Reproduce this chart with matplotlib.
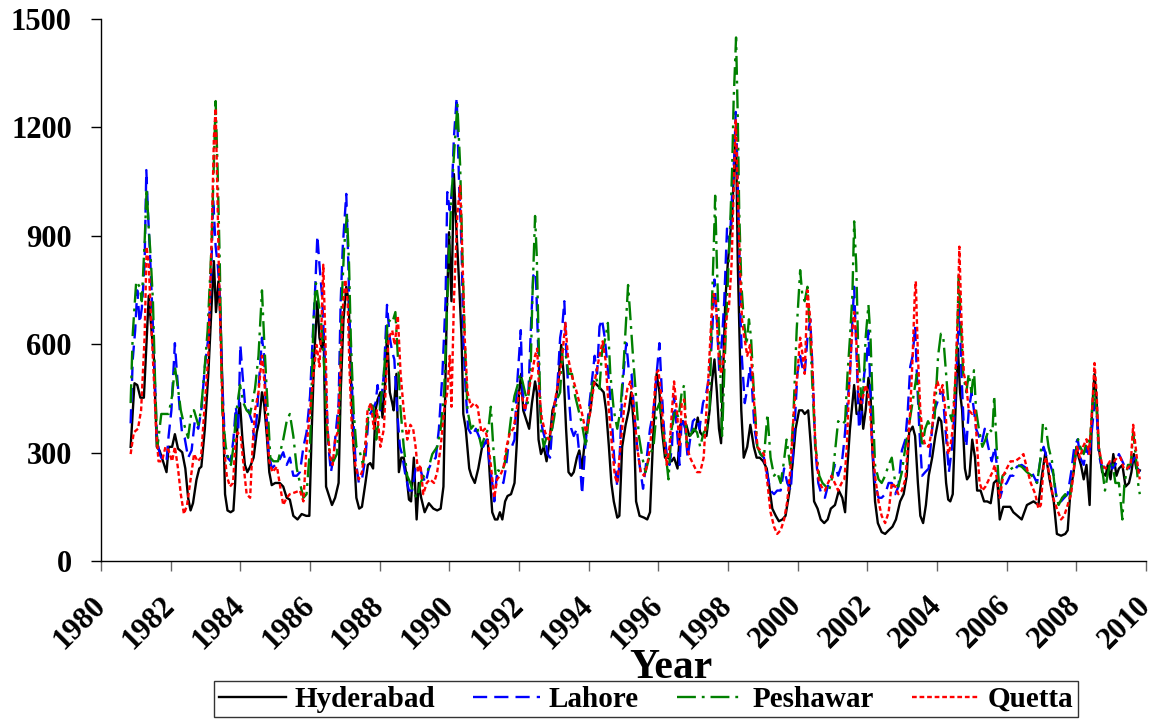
import numpy as np
import matplotlib
matplotlib.use("Agg")
import matplotlib.pyplot as plt

# (decimal year, value)
hyderabad = [
    (1980.85, 316), (1980.96, 492), (1981.04, 487), (1981.13, 452), (1981.23, 452), (1981.37, 734),
    (1981.44, 648), (1981.52, 558), (1981.60, 316), (1981.68, 306), (1981.78, 276), (1981.88, 246),
    (1981.94, 316), (1982.04, 316), (1982.12, 351), (1982.21, 311), (1982.33, 301), (1982.42, 256),
    (1982.50, 175), (1982.57, 140), (1982.64, 160), (1982.74, 225), (1982.82, 256), (1982.88, 261),
    (1982.98, 366), (1983.08, 518), (1983.17, 699), (1983.24, 830), (1983.30, 689), (1983.37, 774),
    (1983.43, 664), (1983.49, 467), (1983.56, 185), (1983.63, 140), (1983.72, 135), (1983.80, 140),
    (1983.85, 215), (1983.92, 387), (1983.99, 437), (1984.06, 336), (1984.13, 266), (1984.20, 246),
    (1984.28, 261), (1984.38, 286), (1984.47, 356), (1984.54, 387), (1984.62, 467), (1984.68, 437),
    (1984.76, 346), (1984.83, 246), (1984.90, 210), (1985.00, 216), (1985.13, 216), (1985.23, 206),
    (1985.33, 175), (1985.42, 170), (1985.52, 125), (1985.64, 115), (1985.76, 130), (1985.89, 125),
    (1985.98, 125), (1986.05, 366), (1986.12, 568), (1986.21, 719), (1986.27, 618), (1986.34, 588),
    (1986.39, 638), (1986.46, 206), (1986.53, 185), (1986.63, 155), (1986.72, 175), (1986.82, 216),
    (1986.88, 467), (1986.96, 669), (1987.04, 759), (1987.11, 719), (1987.17, 518), (1987.25, 316),
    (1987.33, 175), (1987.41, 145), (1987.49, 150), (1987.59, 216), (1987.66, 266), (1987.73, 271),
    (1987.81, 256), (1987.88, 417), (1987.94, 447), (1988.02, 467), (1988.08, 397), (1988.16, 497),
    (1988.21, 638), (1988.29, 467), (1988.36, 437), (1988.40, 417), (1988.48, 518), (1988.55, 246),
    (1988.62, 286), (1988.69, 286), (1988.77, 236), (1988.84, 170), (1988.90, 165), (1988.98, 286),
    (1989.06, 115), (1989.12, 216), (1989.19, 175), (1989.29, 135), (1989.41, 160), (1989.54, 145),
    (1989.65, 140), (1989.75, 145), (1989.83, 206), (1989.87, 417), (1989.92, 669), (1989.99, 910),
    (1990.06, 719), (1990.13, 1071), (1990.20, 920), (1990.28, 769), (1990.35, 618), (1990.40, 407),
    (1990.47, 366), (1990.57, 256), (1990.63, 236), (1990.73, 216), (1990.83, 256), (1990.94, 316),
    (1991.02, 326), (1991.10, 336), (1991.16, 236), (1991.23, 135), (1991.31, 115), (1991.38, 115),
    (1991.45, 135), (1991.52, 115), (1991.60, 165), (1991.67, 180), (1991.77, 185), (1991.87, 216),
    (1991.93, 316), (1992.00, 467), (1992.06, 518), (1992.12, 417), (1992.22, 387), (1992.29, 366),
    (1992.37, 437), (1992.46, 497), (1992.51, 467), (1992.56, 336), (1992.63, 296), (1992.71, 316),
    (1992.79, 276), (1992.87, 326), (1992.96, 417), (1993.06, 447), (1993.13, 497), (1993.21, 598),
    (1993.28, 518), (1993.35, 366), (1993.42, 246), (1993.50, 236), (1993.57, 246), (1993.66, 286),
    (1993.73, 306), (1993.81, 256), (1993.87, 316), (1993.95, 366), (1994.05, 417), (1994.14, 497),
    (1994.24, 487), (1994.34, 477), (1994.43, 467), (1994.50, 417), (1994.58, 316), (1994.65, 216),
    (1994.72, 165), (1994.82, 120), (1994.88, 125), (1994.96, 316), (1995.06, 377), (1995.15, 417),
    (1995.22, 467), (1995.30, 366), (1995.36, 165), (1995.46, 125), (1995.59, 120), (1995.68, 115),
    (1995.76, 135), (1995.86, 366), (1995.95, 518), (1996.03, 467), (1996.10, 366), (1996.19, 286),
    (1996.29, 286), (1996.38, 276), (1996.45, 286), (1996.55, 256), (1996.63, 377), (1996.70, 387),
    (1996.80, 377), (1996.89, 346), (1996.99, 356), (1997.07, 366), (1997.13, 397), (1997.20, 356),
    (1997.28, 346), (1997.38, 346), (1997.47, 417), (1997.54, 497), (1997.61, 558), (1997.68, 467),
    (1997.74, 366), (1997.80, 326), (1997.86, 518), (1997.92, 719), (1997.99, 820), (1998.05, 890),
    (1998.12, 961), (1998.16, 1061), (1998.21, 1152), (1998.24, 1102), (1998.28, 820), (1998.33, 618),
    (1998.38, 417), (1998.45, 286), (1998.55, 316), (1998.64, 377), (1998.74, 316), (1998.82, 286),
    (1998.91, 286), (1999.01, 276), (1999.11, 256), (1999.17, 216), (1999.27, 145), (1999.37, 125),
    (1999.46, 110), (1999.56, 115), (1999.65, 125), (1999.75, 185), (1999.85, 266), (1999.94, 366),
    (2000.04, 417), (2000.13, 417), (2000.20, 407), (2000.30, 417), (2000.38, 316), (2000.47, 165),
    (2000.57, 145), (2000.66, 115), (2000.76, 105), (2000.86, 115), (2000.95, 145), (2001.07, 155),
    (2001.18, 195), (2001.28, 175), (2001.36, 135), (2001.43, 266), (2001.50, 366), (2001.57, 437),
    (2001.62, 487), (2001.69, 407), (2001.76, 407), (2001.82, 457), (2001.88, 366), (2001.95, 417),
    (2002.03, 507), (2002.09, 467), (2002.14, 316), (2002.22, 165), (2002.30, 105), (2002.41, 80),
    (2002.51, 75), (2002.61, 85), (2002.72, 95), (2002.82, 115), (2002.94, 165), (2003.04, 185),
    (2003.13, 236), (2003.20, 356), (2003.30, 372), (2003.37, 346), (2003.45, 216), (2003.52, 125),
    (2003.60, 105), (2003.68, 155), (2003.76, 236), (2003.86, 286), (2003.95, 346), (2004.05, 397),
    (2004.12, 387), (2004.19, 316), (2004.26, 216), (2004.32, 170), (2004.38, 165), (2004.45, 185),
    (2004.53, 417), (2004.60, 588), (2004.66, 467), (2004.72, 417), (2004.80, 256), (2004.86, 226),
    (2004.93, 236), (2005.01, 336), (2005.09, 286), (2005.15, 195), (2005.25, 195), (2005.35, 165),
    (2005.44, 165), (2005.54, 160), (2005.63, 216), (2005.73, 226), (2005.80, 115), (2005.90, 150),
    (2006.10, 150), (2006.19, 135), (2006.43, 115), (2006.58, 155), (2006.77, 165), (2006.91, 155),
    (2007.01, 236), (2007.11, 301), (2007.23, 226), (2007.35, 165), (2007.44, 75), (2007.56, 70),
    (2007.68, 75), (2007.75, 85), (2007.83, 195), (2007.92, 246), (2008.00, 316), (2008.07, 286),
    (2008.13, 266), (2008.21, 226), (2008.29, 266), (2008.38, 155), (2008.45, 417), (2008.52, 518),
    (2008.58, 447), (2008.64, 316), (2008.74, 246), (2008.84, 236), (2008.90, 266), (2008.98, 226),
    (2009.06, 296), (2009.15, 236), (2009.22, 256), (2009.32, 266), (2009.41, 206), (2009.51, 216),
    (2009.58, 246), (2009.65, 296), (2009.72, 256), (2009.82, 251),
]

lahore = [
    (1980.85, 381), (1980.91, 558), (1980.98, 638), (1981.04, 749), (1981.11, 659), (1981.17, 699),
    (1981.25, 820), (1981.30, 1082), (1981.35, 961), (1981.41, 840), (1981.47, 699), (1981.54, 518),
    (1981.60, 346), (1981.68, 296), (1981.78, 276), (1981.88, 276), (1981.94, 346), (1982.02, 417),
    (1982.12, 603), (1982.18, 518), (1982.26, 417), (1982.33, 351), (1982.40, 341), (1982.50, 286),
    (1982.60, 306), (1982.69, 387), (1982.79, 366), (1982.88, 417), (1982.98, 538), (1983.08, 618),
    (1983.17, 820), (1983.22, 1001), (1983.29, 870), (1983.35, 820), (1983.41, 739), (1983.47, 518),
    (1983.56, 316), (1983.63, 286), (1983.72, 276), (1983.80, 336), (1983.87, 427), (1983.94, 366),
    (1984.00, 598), (1984.06, 518), (1984.13, 437), (1984.23, 417), (1984.33, 387), (1984.40, 336),
    (1984.47, 397), (1984.55, 518), (1984.62, 618), (1984.68, 568), (1984.73, 437), (1984.81, 306),
    (1984.90, 256), (1985.00, 266), (1985.10, 276), (1985.23, 301), (1985.33, 266), (1985.42, 286),
    (1985.52, 236), (1985.62, 236), (1985.71, 246), (1985.81, 316), (1985.90, 356), (1986.00, 457),
    (1986.10, 669), (1986.15, 759), (1986.21, 900), (1986.27, 820), (1986.34, 739), (1986.40, 618),
    (1986.46, 467), (1986.53, 316), (1986.60, 246), (1986.67, 286), (1986.75, 366), (1986.82, 437),
    (1986.88, 719), (1986.94, 870), (1987.04, 1016), (1987.10, 820), (1987.15, 618), (1987.23, 417),
    (1987.30, 286), (1987.40, 216), (1987.49, 226), (1987.59, 286), (1987.68, 397), (1987.78, 417),
    (1987.88, 437), (1987.94, 487), (1988.02, 417), (1988.12, 518), (1988.21, 709), (1988.29, 618),
    (1988.36, 578), (1988.42, 558), (1988.50, 417), (1988.58, 316), (1988.64, 296), (1988.74, 236),
    (1988.84, 195), (1988.93, 195), (1989.03, 256), (1989.13, 266), (1989.22, 236), (1989.32, 216),
    (1989.41, 256), (1989.51, 276), (1989.61, 286), (1989.70, 366), (1989.80, 518), (1989.89, 719),
    (1989.94, 1021), (1990.01, 971), (1990.07, 1021), (1990.13, 1172), (1990.21, 1283), (1990.28, 1041),
    (1990.35, 870), (1990.40, 618), (1990.47, 467), (1990.54, 366), (1990.66, 346), (1990.76, 366),
    (1990.97, 316), (1991.07, 336), (1991.16, 266), (1991.23, 216), (1991.29, 165), (1991.36, 236),
    (1991.45, 226), (1991.55, 216), (1991.62, 256), (1991.69, 316), (1991.79, 316), (1991.87, 336),
    (1991.93, 467), (1992.00, 568), (1992.05, 639), (1992.10, 467), (1992.17, 417), (1992.27, 467),
    (1992.35, 669), (1992.41, 790), (1992.48, 800), (1992.54, 618), (1992.61, 417), (1992.67, 366),
    (1992.75, 336), (1992.82, 296), (1992.89, 286), (1992.99, 417), (1993.09, 467), (1993.18, 618),
    (1993.25, 659), (1993.30, 719), (1993.36, 568), (1993.42, 467), (1993.50, 366), (1993.57, 346),
    (1993.66, 366), (1993.73, 296), (1993.81, 185), (1993.90, 316), (1994.00, 417), (1994.10, 507),
    (1994.17, 568), (1994.24, 518), (1994.31, 649), (1994.38, 669), (1994.46, 618), (1994.56, 518),
    (1994.65, 417), (1994.73, 286), (1994.82, 206), (1994.88, 266), (1994.96, 467), (1995.04, 568),
    (1995.08, 603), (1995.15, 528), (1995.23, 518), (1995.30, 417), (1995.39, 316), (1995.49, 246),
    (1995.56, 200), (1995.63, 256), (1995.76, 366), (1995.86, 417), (1995.95, 518), (1996.03, 603),
    (1996.10, 467), (1996.16, 366), (1996.24, 296), (1996.32, 266), (1996.39, 316), (1996.45, 457),
    (1996.53, 366), (1996.61, 266), (1996.67, 397), (1996.77, 366), (1996.84, 286), (1996.91, 336),
    (1996.99, 387), (1997.09, 397), (1997.18, 366), (1997.28, 437), (1997.38, 467), (1997.47, 518),
    (1997.54, 618), (1997.61, 779), (1997.68, 669), (1997.75, 518), (1997.83, 618), (1997.89, 719),
    (1997.97, 920), (1998.05, 880), (1998.12, 1021), (1998.18, 1122), (1998.22, 1243), (1998.26, 1122),
    (1998.31, 920), (1998.36, 669), (1998.40, 558), (1998.48, 437), (1998.55, 477), (1998.63, 538),
    (1998.69, 477), (1998.76, 366), (1998.84, 316), (1998.93, 296), (1999.03, 286), (1999.13, 236),
    (1999.22, 195), (1999.32, 185), (1999.41, 195), (1999.51, 195), (1999.61, 256), (1999.70, 216),
    (1999.80, 195), (1999.89, 336), (1999.99, 518), (2000.07, 568), (2000.13, 538), (2000.20, 518),
    (2000.28, 618), (2000.36, 669), (2000.43, 518), (2000.50, 316), (2000.59, 216), (2000.68, 185),
    (2000.78, 175), (2000.86, 206), (2000.95, 226), (2001.07, 266), (2001.16, 236), (2001.26, 266),
    (2001.34, 336), (2001.41, 417), (2001.50, 518), (2001.57, 669), (2001.62, 759), (2001.69, 568),
    (2001.76, 366), (2001.84, 417), (2001.91, 518), (2001.98, 558), (2002.03, 638), (2002.09, 467),
    (2002.14, 316), (2002.22, 216), (2002.32, 175), (2002.41, 175), (2002.51, 185), (2002.61, 216),
    (2002.70, 216), (2002.80, 185), (2002.89, 206), (2002.99, 306), (2003.09, 336), (2003.16, 417),
    (2003.23, 538), (2003.30, 568), (2003.37, 649), (2003.42, 518), (2003.49, 366), (2003.57, 236),
    (2003.66, 246), (2003.76, 256), (2003.86, 366), (2003.93, 417), (2004.00, 437), (2004.10, 467),
    (2004.16, 467), (2004.24, 366), (2004.34, 246), (2004.43, 316), (2004.51, 417), (2004.58, 568),
    (2004.64, 719), (2004.70, 518), (2004.77, 366), (2004.84, 316), (2004.91, 417), (2004.99, 467),
    (2005.06, 417), (2005.12, 366), (2005.20, 346), (2005.28, 326), (2005.37, 366), (2005.47, 316),
    (2005.57, 276), (2005.66, 316), (2005.81, 175), (2005.90, 206), (2006.00, 216), (2006.10, 236),
    (2006.19, 236), (2006.29, 261), (2006.43, 266), (2006.58, 256), (2006.72, 246), (2006.87, 216),
    (2006.96, 276), (2007.06, 316), (2007.15, 286), (2007.25, 266), (2007.35, 236), (2007.44, 165),
    (2007.56, 165), (2007.65, 175), (2007.75, 185), (2007.85, 246), (2007.94, 316), (2008.04, 337),
    (2008.11, 286), (2008.21, 266), (2008.29, 316), (2008.37, 286), (2008.45, 366), (2008.52, 437),
    (2008.58, 417), (2008.64, 296), (2008.74, 256), (2008.84, 266), (2008.93, 276), (2009.03, 256),
    (2009.12, 266), (2009.22, 296), (2009.32, 276), (2009.41, 256), (2009.51, 256), (2009.61, 276),
    (2009.67, 286), (2009.75, 256), (2009.82, 246),
]

peshawar = [
    (1980.85, 437), (1980.91, 628), (1981.01, 774), (1981.11, 759), (1981.17, 719), (1981.25, 880),
    (1981.31, 1031), (1981.37, 920), (1981.42, 850), (1981.49, 719), (1981.56, 467), (1981.62, 316),
    (1981.73, 407), (1981.85, 407), (1981.94, 407), (1982.04, 457), (1982.12, 538), (1982.21, 477),
    (1982.29, 417), (1982.36, 387), (1982.42, 366), (1982.50, 341), (1982.60, 417), (1982.67, 417),
    (1982.79, 377), (1982.87, 417), (1982.96, 518), (1983.06, 638), (1983.17, 870), (1983.29, 1273),
    (1983.35, 1071), (1983.41, 820), (1983.48, 417), (1983.58, 316), (1983.65, 286), (1983.73, 266),
    (1983.80, 316), (1983.89, 417), (1983.99, 487), (1984.09, 437), (1984.18, 417), (1984.28, 407),
    (1984.42, 477), (1984.52, 568), (1984.62, 749), (1984.68, 618), (1984.76, 467), (1984.86, 286),
    (1984.95, 276), (1985.08, 276), (1985.23, 336), (1985.33, 387), (1985.42, 407), (1985.52, 346),
    (1985.62, 256), (1985.71, 216), (1985.81, 175), (1985.90, 185), (1986.00, 316), (1986.10, 669),
    (1986.17, 769), (1986.24, 719), (1986.31, 669), (1986.39, 568), (1986.48, 366), (1986.58, 286),
    (1986.67, 276), (1986.77, 296), (1986.85, 417), (1986.91, 719), (1986.98, 870), (1987.06, 961),
    (1987.12, 820), (1987.17, 618), (1987.25, 417), (1987.33, 316), (1987.42, 306), (1987.52, 266),
    (1987.62, 356), (1987.71, 437), (1987.81, 427), (1987.90, 336), (1988.00, 417), (1988.12, 518),
    (1988.23, 669), (1988.36, 659), (1988.45, 689), (1988.52, 568), (1988.60, 417), (1988.69, 316),
    (1988.79, 236), (1988.88, 216), (1988.98, 185), (1989.08, 175), (1989.17, 216), (1989.27, 236),
    (1989.37, 246), (1989.51, 296), (1989.65, 316), (1989.75, 366), (1989.85, 467), (1989.94, 719),
    (1990.04, 971), (1990.13, 1122), (1990.23, 1263), (1990.31, 1092), (1990.38, 820), (1990.44, 618),
    (1990.52, 417), (1990.62, 366), (1990.71, 377), (1990.81, 366), (1990.92, 316), (1991.02, 346),
    (1991.12, 366), (1991.19, 427), (1991.26, 316), (1991.33, 236), (1991.40, 251), (1991.50, 246),
    (1991.58, 266), (1991.67, 316), (1991.77, 397), (1991.87, 457), (1991.96, 487), (1992.03, 518),
    (1992.10, 497), (1992.17, 467), (1992.25, 437), (1992.33, 518), (1992.38, 719), (1992.46, 955),
    (1992.51, 840), (1992.56, 618), (1992.63, 366), (1992.71, 316), (1992.80, 346), (1992.89, 336),
    (1992.99, 387), (1993.09, 447), (1993.18, 467), (1993.25, 588), (1993.33, 578), (1993.42, 518),
    (1993.52, 518), (1993.61, 457), (1993.71, 417), (1993.81, 377), (1993.92, 316), (1994.02, 417),
    (1994.12, 497), (1994.21, 507), (1994.31, 477), (1994.38, 578), (1994.48, 618), (1994.55, 659),
    (1994.62, 518), (1994.72, 417), (1994.82, 366), (1994.91, 417), (1995.01, 558), (1995.09, 699),
    (1995.13, 764), (1995.20, 669), (1995.27, 568), (1995.35, 467), (1995.44, 346), (1995.54, 286),
    (1995.63, 246), (1995.76, 296), (1995.86, 316), (1995.95, 417), (1996.03, 437), (1996.10, 387),
    (1996.19, 316), (1996.29, 226), (1996.38, 366), (1996.48, 417), (1996.58, 397), (1996.67, 467),
    (1996.74, 487), (1996.82, 316), (1996.91, 346), (1997.01, 366), (1997.11, 356), (1997.20, 316),
    (1997.30, 356), (1997.39, 366), (1997.47, 417), (1997.54, 719), (1997.59, 870), (1997.63, 1011),
    (1997.68, 820), (1997.73, 669), (1997.78, 518), (1997.83, 346), (1997.89, 518), (1997.97, 719),
    (1998.05, 900), (1998.12, 1092), (1998.16, 1273), (1998.23, 1449), (1998.28, 1223), (1998.32, 971),
    (1998.38, 769), (1998.45, 669), (1998.53, 598), (1998.60, 669), (1998.66, 618), (1998.74, 467),
    (1998.84, 316), (1998.93, 296), (1999.03, 286), (1999.13, 407), (1999.22, 286), (1999.32, 236),
    (1999.41, 246), (1999.51, 216), (1999.59, 266), (1999.68, 336), (1999.78, 266), (1999.87, 387),
    (1999.97, 639), (2000.07, 805), (2000.13, 739), (2000.20, 719), (2000.28, 759), (2000.36, 618),
    (2000.43, 467), (2000.51, 316), (2000.62, 236), (2000.71, 216), (2000.81, 206), (2000.90, 195),
    (2001.00, 236), (2001.16, 387), (2001.26, 377), (2001.36, 387), (2001.43, 518), (2001.50, 618),
    (2001.57, 739), (2001.62, 940), (2001.68, 820), (2001.74, 568), (2001.82, 457), (2001.88, 467),
    (2001.95, 618), (2002.03, 709), (2002.09, 618), (2002.14, 467), (2002.22, 266), (2002.32, 226),
    (2002.41, 216), (2002.51, 236), (2002.61, 266), (2002.70, 286), (2002.80, 216), (2002.89, 206),
    (2002.99, 246), (2003.09, 316), (2003.18, 366), (2003.26, 417), (2003.34, 467), (2003.42, 518),
    (2003.49, 417), (2003.57, 316), (2003.66, 366), (2003.74, 387), (2003.84, 366), (2003.93, 397),
    (2004.03, 568), (2004.11, 629), (2004.18, 618), (2004.26, 518), (2004.34, 417), (2004.43, 387),
    (2004.51, 467), (2004.58, 618), (2004.62, 790), (2004.68, 669), (2004.75, 518), (2004.84, 467),
    (2004.91, 518), (2004.99, 467), (2005.06, 528), (2005.12, 417), (2005.20, 366), (2005.30, 316),
    (2005.39, 336), (2005.49, 366), (2005.59, 356), (2005.64, 457), (2005.71, 316), (2005.79, 185),
    (2005.88, 236), (2006.00, 246), (2006.14, 256), (2006.29, 266), (2006.43, 261), (2006.58, 246),
    (2006.72, 236), (2006.87, 216), (2006.96, 276), (2007.04, 382), (2007.13, 366), (2007.20, 316),
    (2007.30, 276), (2007.39, 195), (2007.49, 155), (2007.59, 175), (2007.68, 185), (2007.78, 155),
    (2007.87, 216), (2007.97, 296), (2008.05, 337), (2008.11, 316), (2008.21, 296), (2008.31, 337),
    (2008.38, 316), (2008.45, 417), (2008.52, 477), (2008.58, 417), (2008.64, 316), (2008.74, 256),
    (2008.82, 195), (2008.89, 236), (2008.96, 266), (2009.03, 276), (2009.12, 216), (2009.22, 216),
    (2009.32, 115), (2009.38, 216), (2009.48, 266), (2009.56, 266), (2009.63, 356), (2009.70, 296),
    (2009.77, 216), (2009.82, 185),
]

quetta = [
    (1980.85, 296), (1980.94, 356), (1981.06, 366), (1981.15, 417), (1981.25, 618), (1981.31, 870),
    (1981.37, 820), (1981.44, 659), (1981.51, 518), (1981.58, 366), (1981.65, 276), (1981.75, 276),
    (1981.85, 316), (1981.94, 306), (1982.04, 276), (1982.12, 316), (1982.21, 256), (1982.29, 185),
    (1982.38, 130), (1982.47, 155), (1982.57, 225), (1982.67, 296), (1982.77, 276), (1982.87, 286),
    (1982.98, 437), (1983.08, 568), (1983.17, 870), (1983.24, 1172), (1983.29, 1253), (1983.34, 1021),
    (1983.38, 820), (1983.46, 518), (1983.53, 316), (1983.61, 236), (1983.70, 206), (1983.79, 216),
    (1983.85, 316), (1983.92, 356), (1984.01, 346), (1984.09, 266), (1984.18, 185), (1984.28, 175),
    (1984.35, 316), (1984.42, 417), (1984.52, 467), (1984.62, 568), (1984.69, 497), (1984.76, 366),
    (1984.83, 276), (1984.92, 246), (1985.05, 261), (1985.23, 155), (1985.33, 175), (1985.42, 185),
    (1985.57, 190), (1985.71, 195), (1985.81, 165), (1985.90, 316), (1986.00, 417), (1986.10, 518),
    (1986.19, 598), (1986.27, 538), (1986.33, 659), (1986.38, 820), (1986.44, 618), (1986.50, 366),
    (1986.58, 286), (1986.65, 266), (1986.72, 336), (1986.79, 356), (1986.87, 518), (1986.94, 699),
    (1987.01, 779), (1987.08, 719), (1987.13, 538), (1987.20, 366), (1987.30, 266), (1987.40, 226),
    (1987.49, 246), (1987.59, 316), (1987.65, 417), (1987.75, 437), (1987.83, 366), (1987.92, 417),
    (1988.02, 316), (1988.12, 366), (1988.19, 518), (1988.26, 618), (1988.36, 638), (1988.43, 598),
    (1988.52, 679), (1988.60, 518), (1988.69, 417), (1988.79, 336), (1988.88, 377), (1988.96, 366),
    (1989.03, 316), (1989.10, 246), (1989.17, 266), (1989.25, 185), (1989.35, 216), (1989.44, 226),
    (1989.56, 216), (1989.65, 246), (1989.75, 316), (1989.85, 417), (1989.94, 467), (1990.01, 568),
    (1990.06, 427), (1990.13, 719), (1990.23, 961), (1990.31, 1041), (1990.38, 820), (1990.44, 618),
    (1990.52, 467), (1990.62, 427), (1990.71, 437), (1990.81, 427), (1990.92, 356), (1991.02, 366),
    (1991.10, 336), (1991.19, 266), (1991.29, 175), (1991.37, 226), (1991.45, 236), (1991.55, 256),
    (1991.64, 316), (1991.74, 356), (1991.84, 366), (1991.93, 417), (1992.00, 467), (1992.08, 457),
    (1992.17, 417), (1992.27, 467), (1992.37, 518), (1992.46, 568), (1992.52, 588), (1992.58, 467),
    (1992.65, 397), (1992.75, 356), (1992.85, 336), (1992.92, 366), (1993.02, 437), (1993.13, 497),
    (1993.23, 558), (1993.33, 659), (1993.40, 568), (1993.50, 518), (1993.60, 487), (1993.71, 447),
    (1993.81, 407), (1993.92, 356), (1994.02, 397), (1994.12, 467), (1994.21, 518), (1994.31, 568),
    (1994.40, 608), (1994.48, 558), (1994.58, 417), (1994.67, 316), (1994.75, 236), (1994.82, 216),
    (1994.91, 316), (1995.01, 417), (1995.11, 477), (1995.20, 497), (1995.30, 417), (1995.39, 316),
    (1995.49, 246), (1995.59, 236), (1995.68, 266), (1995.76, 316), (1995.86, 417), (1995.93, 518),
    (1996.00, 528), (1996.07, 467), (1996.14, 366), (1996.24, 266), (1996.32, 316), (1996.39, 417),
    (1996.45, 497), (1996.53, 417), (1996.61, 316), (1996.67, 437), (1996.74, 447), (1996.82, 316),
    (1996.91, 286), (1997.01, 266), (1997.11, 246), (1997.20, 246), (1997.30, 286), (1997.38, 417),
    (1997.44, 518), (1997.52, 669), (1997.59, 739), (1997.65, 719), (1997.73, 568), (1997.80, 518),
    (1997.88, 568), (1997.95, 669), (1998.03, 709), (1998.10, 820), (1998.16, 1021), (1998.22, 1223),
    (1998.28, 1021), (1998.34, 820), (1998.40, 669), (1998.47, 618), (1998.55, 568), (1998.63, 598),
    (1998.70, 518), (1998.76, 417), (1998.84, 316), (1998.93, 306), (1999.03, 296), (1999.13, 216),
    (1999.22, 135), (1999.32, 95), (1999.41, 75), (1999.51, 85), (1999.61, 115), (1999.70, 165),
    (1999.80, 266), (1999.89, 417), (1999.99, 518), (2000.07, 618), (2000.13, 578), (2000.20, 518),
    (2000.28, 749), (2000.36, 669), (2000.43, 518), (2000.51, 316), (2000.60, 226), (2000.68, 206),
    (2000.78, 195), (2000.87, 216), (2000.97, 236), (2001.16, 195), (2001.26, 216), (2001.34, 226),
    (2001.41, 316), (2001.47, 467), (2001.55, 618), (2001.62, 689), (2001.68, 618), (2001.74, 467),
    (2001.82, 437), (2001.88, 457), (2001.95, 487), (2002.01, 467), (2002.08, 417), (2002.14, 316),
    (2002.22, 236), (2002.32, 165), (2002.41, 125), (2002.51, 105), (2002.61, 135), (2002.70, 216),
    (2002.80, 206), (2002.89, 185), (2002.99, 195), (2003.09, 226), (2003.16, 316), (2003.23, 417),
    (2003.30, 568), (2003.36, 739), (2003.39, 774), (2003.45, 568), (2003.52, 417), (2003.59, 346),
    (2003.66, 321), (2003.76, 316), (2003.86, 366), (2003.93, 467), (2004.01, 497), (2004.10, 467),
    (2004.16, 487), (2004.24, 417), (2004.32, 296), (2004.38, 316), (2004.45, 366), (2004.53, 518),
    (2004.59, 669), (2004.64, 870), (2004.70, 669), (2004.77, 518), (2004.84, 487), (2004.91, 417),
    (2005.01, 407), (2005.09, 417), (2005.15, 316), (2005.22, 216), (2005.30, 195), (2005.39, 206),
    (2005.49, 226), (2005.59, 246), (2005.66, 266), (2005.73, 216), (2005.80, 175), (2005.90, 236),
    (2006.00, 256), (2006.11, 276), (2006.24, 276), (2006.38, 286), (2006.48, 296), (2006.58, 256),
    (2006.69, 216), (2006.82, 185), (2006.91, 145), (2006.98, 155), (2007.06, 266), (2007.13, 286),
    (2007.23, 236), (2007.33, 175), (2007.44, 145), (2007.56, 115), (2007.65, 125), (2007.75, 155),
    (2007.85, 185), (2007.94, 266), (2008.02, 316), (2008.10, 286), (2008.19, 316), (2008.29, 337),
    (2008.37, 296), (2008.45, 417), (2008.52, 548), (2008.58, 467), (2008.64, 316), (2008.74, 266),
    (2008.84, 256), (2008.96, 276), (2009.08, 276), (2009.17, 286), (2009.27, 286), (2009.36, 256),
    (2009.46, 256), (2009.56, 266), (2009.63, 377), (2009.70, 316), (2009.77, 256), (2009.82, 226),
]

names = ["Hyderabad", "Lahore", "Peshawar", "Quetta"]
x_ticks = list(range(1980, 2011, 2))
y_ticks = list(range(0, 1501, 300))

font = "Liberation Serif"

fig = plt.figure(figsize=(11.56, 7.21), dpi=100)
ax = fig.add_axes([0.0874, 0.2219, 0.904, 0.7517])

styles = [
    dict(color="black", linestyle="-"),
    dict(color="#0000ff", linestyle=(0, (6, 3))),
    dict(color="#008000", linestyle=(0, (8, 2.5, 1.2, 2.5))),
    dict(color="#ff0000", linestyle=(0, (2, 1.2))),
]
for name, data, st in zip(names, [hyderabad, lahore, peshawar, quetta], styles):
    t, v = zip(*data)
    ax.plot(t, v, lw=1.7, label=name, **st)

ax.set_xlim(1980, 2010)
ax.set_ylim(0, 1500)
ax.set_xticks(x_ticks)
ax.set_yticks(y_ticks)
ax.spines["top"].set_visible(False)
ax.spines["right"].set_visible(False)
for s in ["left", "bottom"]:
    ax.spines[s].set_linewidth(1.0)
ax.tick_params(axis="both", direction="out", length=7, width=1.0)
ax.tick_params(axis="x", colors="#666666", labelcolor="black", pad=22)
ax.tick_params(axis="y", pad=14)

for lab in ax.get_yticklabels():
    lab.set_fontfamily(font)
    lab.set_fontweight("bold")
    lab.set_fontsize(22)
ax.set_xticklabels([str(y) for y in x_ticks], rotation=45, ha="right", va="center",
                   rotation_mode="anchor", fontfamily=font, fontweight="bold", fontsize=22)

fig.text(0.5804, 0.0735, "Year", ha="center", va="center",
         fontfamily=font, fontweight="bold", fontsize=30)

leg = fig.legend(loc="center", bbox_to_anchor=(0.559, 0.030), ncol=4, frameon=True,
                 fancybox=False, edgecolor="black", handlelength=2.3, columnspacing=1.3,
                 handletextpad=0.3, borderpad=0.15,
                 prop=dict(family=font, weight="bold", size=21))
leg.get_frame().set_linewidth(1.0)

fig.savefig("out.png", dpi=100)
